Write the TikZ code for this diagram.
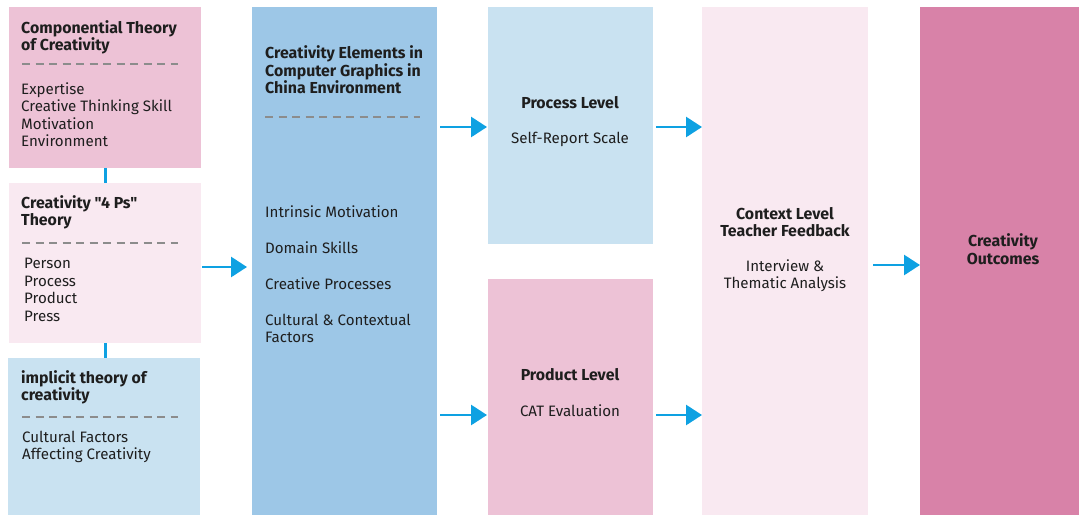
\documentclass[tikz,border=0pt]{standalone}
\usepackage{fontspec}
\setmainfont{Fira Sans}[Ligatures=TeXOff]
\usetikzlibrary{arrows.meta}
\definecolor{pinkA}{HTML}{EDC2D6}
\definecolor{pinkL}{HTML}{F9E9F1}
\definecolor{blueL}{HTML}{C9E2F1}
\definecolor{blueM}{HTML}{9DC7E7}
\definecolor{pinkD}{HTML}{D882A8}
\definecolor{flow}{HTML}{0EA1E2}
\definecolor{ink}{HTML}{1E1E1E}
\definecolor{sep}{HTML}{8C8C8C}
\tikzset{
  x=1pt, y=-1pt,
  txt/.style={inner sep=0pt, text=ink, font=\fontsize{15.1}{17.5}\selectfont, align=left},
  hd/.style={txt, font=\fontsize{15.9}{17.5}\selectfont\bfseries},
  ctr/.style={align=center},
  sepline/.style={draw=sep, line width=1.2pt, dash pattern=on 8pt off 5.5pt},
  flowarrow/.style={draw=flow, line width=2.8pt, -{Triangle[length=16pt,width=20pt]}},
  link/.style={draw=flow, line width=3pt},
}
\begin{document}
\begin{tikzpicture}
\useasboundingbox (0,0) rectangle (1079,515);
% panels
\fill[pinkA] (9,7) rectangle (201,168);
\fill[pinkL] (9,183) rectangle (201,343);
\fill[blueL] (8,358) rectangle (200,515);
\fill[blueM] (252,7) rectangle (437,515);
\fill[blueL] (488,7) rectangle (653,244);
\fill[pinkA] (488,279) rectangle (653,515);
\fill[pinkL] (702,7) rectangle (868,515);
\fill[pinkD] (920,7) rectangle (1079,515);

% anchors for connectors
\coordinate (t1b) at (105,168);
\coordinate (t2t) at (105,183);
\coordinate (t2b) at (105,343);
\coordinate (t3t) at (105,358);
\coordinate (t2r) at (202,267);
\coordinate (elL) at (247,267);
\coordinate (elR1) at (440,127);
\coordinate (elR2) at (440,415);
\coordinate (prL) at (487,127);
\coordinate (prR) at (656,127);
\coordinate (pdL) at (487,415);
\coordinate (pdR) at (656,415);
\coordinate (cxL1) at (702,127);
\coordinate (cxL2) at (702,415);
\coordinate (cxR) at (873,265);
\coordinate (ocL) at (920,265);

% left column texts
\node[hd, anchor=west] (h1) at (21,37.5) {Componential Theory\\of Creativity};
\draw[sepline] (22,64) -- (178,64);
\node[txt, anchor=west] (b1) at (21,114.5) {Expertise\\Creative Thinking Skill\\Motivation\\Environment};

\node[hd, anchor=west] (h2) at (21,212.5) {Creativity "4 Ps"\\Theory};
\draw[sepline] (22,243) -- (178,243);
\node[txt, anchor=west] (b2) at (24,290) {Person\\Process\\Product\\Press};

\node[hd, anchor=west] (h3) at (21,387.5) {implicit theory of\\creativity};
\draw[sepline] (22,417) -- (178,417);
\node[txt, anchor=west] (b3) at (22,447) {Cultural Factors\\Affecting Creativity};

% elements column
\node[hd, anchor=west] (h4) at (265,70) {Creativity Elements in\\Computer Graphics in\\China Environment};
\draw[sepline] (265,117) -- (420,117);
\node[txt, anchor=west] (e1) at (265,212) {Intrinsic Motivation};
\node[txt, anchor=west] (e2) at (265,248) {Domain Skills};
\node[txt, anchor=west] (e3) at (265,284) {Creative Processes};
\node[txt, anchor=west] (e4) at (265,328.5) {Cultural \& Contextual\\Factors};

% levels
\node[hd, ctr] (p1) at (570,103) {Process Level};
\node[txt, ctr] (p2) at (570,139) {Self-Report Scale};
\node[hd, ctr] (d1) at (570,375) {Product Level};
\node[txt, ctr] (d2) at (570,411) {CAT Evaluation};
\node[hd, ctr] (c1) at (785,222) {Context Level\\Teacher Feedback};
\node[txt, ctr] (c2) at (785,275.5) {Interview \&\\Thematic Analysis};
\node[hd, ctr] (o1) at (1003,249) {Creativity\\Outcomes};

% connectors
\draw[link] (t1b) -- (t2t);
\draw[link] (t2b) -- (t3t);
\draw[flowarrow] (t2r) -- (elL);
\draw[flowarrow] (elR1) -- (prL);
\draw[flowarrow] (elR2) -- (pdL);
\draw[flowarrow] (prR) -- (cxL1);
\draw[flowarrow] (pdR) -- (cxL2);
\draw[flowarrow] (cxR) -- (ocL);
\end{tikzpicture}
\end{document}
